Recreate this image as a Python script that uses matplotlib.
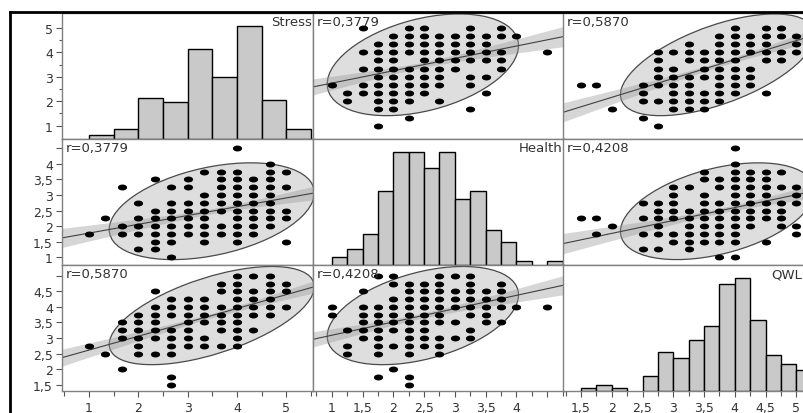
"""Scatterplot matrix of Stress, Health and QWL with density ellipses and fits."""
import matplotlib
matplotlib.use("Agg")
import matplotlib.pyplot as plt
from matplotlib.lines import Line2D
from matplotlib.patches import Ellipse
from matplotlib.path import Path
from matplotlib.ticker import FixedLocator, FuncFormatter
import numpy as np

VARS = ["Stress", "Health", "QWL"]

# summary statistics per variable and pairwise correlations
MEANS = {"Stress": 3.49, "Health": 2.48, "QWL": 3.72}
SDS = {"Stress": 0.85, "Health": 0.635, "QWL": 0.645}
CORR = {
    ("Stress", "Health"): 0.3779,
    ("Stress", "QWL"): 0.5870,
    ("Health", "QWL"): 0.4208,
}
N_OBS = 198

# histograms (left bin edge, count)
STRESS_BINS = [1.0, 1.5, 2.0, 2.5, 3.0, 3.5, 4.0, 4.5, 5.0]
STRESS_COUNTS = [2, 5, 20, 18, 44, 30, 55, 19, 5]
HEALTH_BINS = [1.0, 1.25, 1.5, 1.75, 2.0, 2.25, 2.5, 2.75, 3.0, 3.25, 3.5, 3.75, 4.0, 4.25, 4.5]
HEALTH_COUNTS = [2, 4, 8, 19, 29, 29, 25, 29, 17, 19, 9, 6, 1, 0, 1]
QWL_BINS = [1.5, 1.75, 2.0, 2.25, 2.5, 2.75, 3.0, 3.25, 3.5, 3.75, 4.0, 4.25, 4.5, 4.75, 5.0]
QWL_COUNTS = [1, 2, 1, 0, 5, 13, 11, 17, 22, 36, 38, 24, 12, 9, 7]
BIN_WIDTH = {"Stress": 0.5, "Health": 0.25, "QWL": 0.25}

# occupied cells: Health level -> Stress values
HS_HEALTH = [4.5, 4.0, 3.75, 3.5, 3.25, 3.0, 2.75, 2.5, 2.25, 2.0, 1.75, 1.5, 1.25, 1.0]
HS_STRESS = [
    [4.0],
    [4.67],
    [3.33, 3.67, 4.0, 4.67, 5.0],
    [2.33, 3.0, 3.67, 4.0, 4.33, 4.67],
    [1.67, 2.67, 3.0, 3.67, 4.0, 4.33, 4.67, 5.0],
    [3.33, 3.67, 4.0, 4.33, 4.67],
    [2.0, 2.67, 3.0, 3.33, 3.67, 4.0, 4.33, 4.67],
    [2.33, 2.67, 3.0, 3.33, 3.67, 4.0, 4.33, 4.67, 5.0],
    [1.33, 2.0, 2.33, 2.67, 3.0, 3.33, 4.0, 4.33, 4.67, 5.0],
    [1.67, 2.0, 2.33, 2.67, 3.0, 3.33, 3.67, 4.0, 4.33, 4.67],
    [1.0, 1.67, 2.0, 2.33, 2.67, 3.0, 3.33, 3.67, 4.0, 4.33],
    [2.33, 2.67, 3.33, 4.0, 5.0],
    [2.0, 2.33],
    [2.67],
]

# QWL level -> Stress values
QS_QWL = [5.0, 4.75, 4.5, 4.25, 4.0, 3.75, 3.5, 3.25, 3.0, 2.75, 2.5, 2.0, 1.75, 1.5]
QS_STRESS = [
    [4.0, 4.33, 4.67],
    [3.67, 4.0, 4.67, 5.0],
    [2.33, 3.67, 4.0, 4.33, 4.67, 5.0],
    [2.67, 3.0, 3.33, 4.0, 4.33, 4.67],
    [2.33, 2.67, 3.0, 3.33, 3.67, 4.0, 4.33, 4.67, 5.0],
    [2.0, 2.33, 2.67, 3.0, 3.33, 3.67, 4.0, 4.33, 4.67],
    [1.67, 2.0, 2.33, 3.0, 3.33, 3.67, 4.0],
    [1.67, 2.0, 2.33, 2.67, 3.0, 3.67, 4.0, 4.33],
    [1.67, 2.0, 2.33, 2.67, 3.0, 3.33, 4.0],
    [1.0, 2.0, 2.67, 3.0, 3.33, 3.67, 4.0],
    [1.33, 2.0, 2.33, 2.67],
    [1.67],
    [2.67],
    [2.67],
]

# QWL level -> Health values
QH_QWL = [5.0, 4.75, 4.5, 4.25, 4.0, 3.75, 3.5, 3.25, 3.0, 2.75, 2.5, 2.0, 1.75, 1.5]
QH_HEALTH = [
    [1.75, 2.0, 2.75, 3.0, 3.25],
    [2.0, 2.25, 2.5, 2.75, 3.25, 3.75],
    [1.5, 2.25, 2.5, 2.75, 3.0, 3.25, 3.5, 3.75],
    [2.0, 2.25, 2.5, 2.75, 3.0, 3.25, 3.5, 3.75],
    [1.0, 1.5, 1.75, 2.0, 2.25, 2.5, 2.75, 3.0, 3.25, 3.5, 3.75, 4.0, 4.5],
    [1.0, 1.5, 1.75, 2.0, 2.25, 2.5, 2.75, 3.25, 3.5],
    [1.5, 1.75, 2.0, 2.25, 2.5, 2.75, 3.0, 3.5, 3.75],
    [1.25, 1.5, 1.75, 2.0, 2.25, 2.5, 3.25],
    [1.5, 1.75, 2.25, 2.5, 2.75, 3.0, 3.25],
    [1.25, 1.75, 2.0, 2.25, 2.5, 2.75],
    [1.25, 1.75, 2.25, 2.75],
    [2.0],
    [1.75, 2.25],
    [2.25],
]

# axis ranges and ticks
X_LIMITS = {"Stress": (0.452, 5.544), "Health": (0.695, 4.773), "QWL": (1.207, 5.288)}
Y_LIMITS = {"Stress": (0.455, 5.61), "Health": (0.752, 4.80), "QWL": (1.295, 5.346)}
X_TICKS = {
    "Stress": [1, 2, 3, 4, 5],
    "Health": [1, 1.5, 2, 2.5, 3, 3.5, 4, 4.5],
    "QWL": [1.5, 2, 2.5, 3, 3.5, 4, 4.5, 5],
}
X_MINOR = {
    "Stress": [0.5, 1.5, 2.5, 3.5, 4.5, 5.5],
    "Health": [0.75, 1.25, 1.75, 2.25, 2.75, 3.25, 3.75, 4.25, 4.75],
    "QWL": [1.25, 1.75, 2.25, 2.75, 3.25, 3.75, 4.25, 4.75, 5.25],
}
Y_TICKS = {
    "Stress": [1, 2, 3, 4, 5],
    "Health": [1, 1.5, 2, 2.5, 3, 3.5, 4, 4.5],
    "QWL": [1.5, 2, 2.5, 3, 3.5, 4, 4.5, 5],
}
Y_MINOR = {"Stress": [1.5, 2.5, 3.5, 4.5], "Health": [], "QWL": []}
X_UNLABELED = {"Health": 4.5}
Y_UNLABELED = {"Health": 4.5, "QWL": 5}

CHI2_95 = 5.991
T_95 = 1.972

W, H = 804, 414
COL_LEFT = [62, 313, 563]
ROW_TOP = [14, 140, 266]
PANEL_W, PANEL_H = 251, 126

TEXT_COLOR = "#333333"
ELLIPSE_FILL = "#dedede"
BAR_FILL = "#c9c9c9"

_t = np.linspace(0, 2 * np.pi, 41)
DOT = Path(np.column_stack([np.cos(_t), 0.58 * np.sin(_t)]), closed=True)


def corr(a, b):
    return CORR[(a, b)] if (a, b) in CORR else CORR[(b, a)]


def cells(levels, values):
    lv, vv = [], []
    for level, vals in zip(levels, values):
        lv.extend([level] * len(vals))
        vv.extend(vals)
    return np.array(lv), np.array(vv)


def pair_points(xvar, yvar):
    h, s = cells(HS_HEALTH, HS_STRESS)
    q1, s1 = cells(QS_QWL, QS_STRESS)
    q2, h2 = cells(QH_QWL, QH_HEALTH)
    table = {
        ("Health", "Stress"): (h, s),
        ("Stress", "Health"): (s, h),
        ("QWL", "Stress"): (q1, s1),
        ("Stress", "QWL"): (s1, q1),
        ("QWL", "Health"): (q2, h2),
        ("Health", "QWL"): (h2, q2),
    }
    return table[(xvar, yvar)]


def comma(v, _):
    return f"{v:g}".replace(".", ",")


def draw_pair(ax, xvar, yvar):
    mx, my = MEANS[xvar], MEANS[yvar]
    sx, sy = SDS[xvar], SDS[yvar]
    r = corr(xvar, yvar)

    # 95% density ellipse
    cov = np.array([[sx ** 2, r * sx * sy], [r * sx * sy, sy ** 2]])
    vals, vecs = np.linalg.eigh(cov)
    order = vals.argsort()[::-1]
    vals, vecs = vals[order], vecs[:, order]
    angle = np.degrees(np.arctan2(vecs[1, 0], vecs[0, 0]))
    width, height = 2 * np.sqrt(CHI2_95 * vals)
    ax.add_patch(Ellipse((mx, my), width, height, angle=angle, facecolor=ELLIPSE_FILL,
                         edgecolor="#4a4a4a", linewidth=0.9, zorder=1))

    # least squares fit with confidence band of the mean
    x = np.linspace(*ax.get_xlim(), 120)
    fit = my + r * sy / sx * (x - mx)
    se = sy * np.sqrt(1 - r ** 2) * np.sqrt((N_OBS - 1) / (N_OBS - 2))
    half = T_95 * se * np.sqrt(1 / N_OBS + (x - mx) ** 2 / ((N_OBS - 1) * sx ** 2))
    ax.fill_between(x, fit - half, fit + half, color="#9a9a9a", alpha=0.4,
                    linewidth=0, zorder=2)
    ax.plot(x, fit, color="#404040", linewidth=0.8, zorder=2.5)

    px, py = pair_points(xvar, yvar)
    ax.plot(px, py, linestyle="none", marker=DOT, markersize=5.6,
            color="black", zorder=3)

    ax.text(0.014, 0.935, f"r={r:.4f}".replace(".", ","), transform=ax.transAxes,
            ha="left", va="center", fontsize=9.5, color=TEXT_COLOR, zorder=4)


def draw_hist(fig, ax, var):
    bins = {"Stress": STRESS_BINS, "Health": HEALTH_BINS, "QWL": QWL_BINS}[var]
    counts = {"Stress": STRESS_COUNTS, "Health": HEALTH_COUNTS, "QWL": QWL_COUNTS}[var]
    hax = fig.add_axes(ax.get_position(), sharex=ax)
    hax.set_axis_off()
    left = [b for b, c in zip(bins, counts) if c > 0]
    height = [c for c in counts if c > 0]
    hax.bar(left, height, width=BIN_WIDTH[var], align="edge", color=BAR_FILL,
            edgecolor="black", linewidth=1.0)
    hax.set_ylim(0, max(counts) * 1.115)
    # the last column runs past the right edge, so its name sits at the visible edge
    xpos = 0.995 if var != "QWL" else (W - 2 - COL_LEFT[2]) / PANEL_W
    ax.text(xpos, 0.93, var, transform=ax.transAxes, ha="right", va="center",
            fontsize=9.5, color=TEXT_COLOR, zorder=5)


def style_axis(ax, i, j):
    xvar, yvar = VARS[j], VARS[i]
    ax.set_xlim(X_LIMITS[xvar])
    ax.set_ylim(Y_LIMITS[yvar])
    for sp in ax.spines.values():
        sp.set_color("#808080")
        sp.set_linewidth(1.0)
    ax.tick_params(which="both", colors="#555555", labelcolor=TEXT_COLOR, labelsize=9)
    ax.tick_params(which="major", length=4.5, width=0.8)
    ax.tick_params(which="minor", length=2.5, width=0.8)

    if j == 0:
        ax.yaxis.set_major_locator(FixedLocator(Y_TICKS[yvar]))
        ax.yaxis.set_minor_locator(FixedLocator(Y_MINOR[yvar]))
        hidden = Y_UNLABELED.get(yvar)
        ax.yaxis.set_major_formatter(
            FuncFormatter(lambda v, p, hidden=hidden: "" if v == hidden else comma(v, p)))
        ax.tick_params(axis="y", pad=2)
    else:
        ax.tick_params(axis="y", which="both", left=False, labelleft=False)

    if i == 2:
        ax.xaxis.set_major_locator(FixedLocator(X_TICKS[xvar]))
        ax.xaxis.set_minor_locator(FixedLocator(X_MINOR[xvar]))
        hidden = X_UNLABELED.get(xvar)
        ax.xaxis.set_major_formatter(
            FuncFormatter(lambda v, p, hidden=hidden: "" if v == hidden else comma(v, p)))
        ax.tick_params(axis="x", which="minor", length=3.5)
        ax.tick_params(axis="x", pad=3)
    else:
        ax.tick_params(axis="x", which="both", bottom=False, labelbottom=False)


def main():
    fig = plt.figure(figsize=(W / 100, H / 100), dpi=100)
    fig.patch.set_facecolor("white")

    for i in range(3):
        for j in range(3):
            rect = [COL_LEFT[j] / W, 1 - (ROW_TOP[i] + PANEL_H) / H, PANEL_W / W, PANEL_H / H]
            ax = fig.add_axes(rect)
            style_axis(ax, i, j)
            if i == j:
                draw_hist(fig, ax, VARS[i])
            else:
                draw_pair(ax, VARS[j], VARS[i])

    # outer frame
    fig.add_artist(Line2D([10 / W, 10 / W], [0, 1 - 13 / H], transform=fig.transFigure,
                          color="black", linewidth=2.0))
    fig.add_artist(Line2D([10 / W, 1], [1 - 13 / H, 1 - 13 / H], transform=fig.transFigure,
                          color="black", linewidth=2.0))

    fig.savefig("out.png", dpi=100)
    plt.close(fig)


if __name__ == "__main__":
    main()
